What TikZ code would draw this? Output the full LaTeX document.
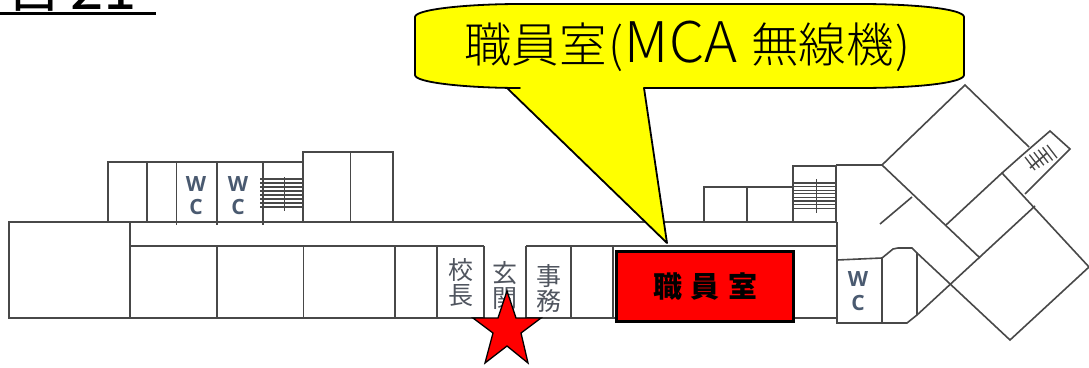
\documentclass[tikz,border=0pt]{standalone}
\usepackage{fontspec}
\setmainfont{Noto Sans CJK JP}
\newfontfamily\cjklight{Noto Sans CJK JP Light}
\newfontfamily\wcfont{Open Sans}
\definecolor{wall}{HTML}{484848}
\definecolor{lbl}{HTML}{50555F}
\definecolor{wclbl}{HTML}{4A5A70}
\definecolor{pureyellow}{RGB}{255,255,0}
\definecolor{purered}{RGB}{255,0,0}
\tikzset{
  wallline/.style={draw=wall,line width=1.6pt},
  thinwall/.style={draw=wall,line width=1.3pt},
  roomlbl/.style={text=lbl,font=\fontsize{25}{26}\selectfont,inner sep=0pt,align=center},
  wclabel/.style={text=wclbl,font=\wcfont\bfseries\fontsize{21}{23}\selectfont,inner sep=0pt},
  bubble/.style={draw=black,line width=1.8pt,fill=pureyellow,line join=round},
}
\begin{document}
\begin{tikzpicture}[x=1pt,y=-1pt]
\useasboundingbox (0,0) rectangle (1089,367);
\fill[white] (0,0) rectangle (1089,367);
% clipped heading
\begin{scope}
\clip (0,0) rectangle (160,11.5);
\node[anchor=base west,inner sep=0pt,font=\fontsize{60}{60}\selectfont] (headA) at (4,6) {合};
\node[anchor=base west,inner sep=0pt,font=\fontsize{60}{60}\selectfont] (headB) at (70,9.5) {21};
\end{scope}
\draw[line width=3.2pt] (0,13.5) -- (156,13.5);
% left wing
\draw[wallline] (9,222) rectangle (130,318);
\draw[wallline] (130,222) -- (837,222);
\draw[wallline] (130,246) -- (484,246) (526,246) -- (837,246);
\draw[wallline] (130,318) -- (484,318) (526,318) -- (837,318);
\foreach \x in {217,303.5,395,437,484,526,571,613}
  \draw[wallline] (\x,246) -- (\x,318);
\draw[wallline] (108,222) -- (108,162) -- (303,162);
\draw[wallline] (147,162) -- (147,222);
\foreach \x in {176.5,217,263}
  \draw[wallline] (\x,162) -- (\x,225);
\draw[wallline] (303,222) -- (303,152) -- (393,152) -- (393,222);
\draw[wallline] (350.5,152) -- (350.5,222);
\foreach \i in {0,...,7}
  \draw[thinwall] (260,179+4*\i) -- (303,179+4*\i);
\draw[wallline] (284.5,177) -- (284.5,211);
% right of corridor
\draw[wallline] (704,222) -- (704,187) -- (793,187);
\draw[wallline] (747,187) -- (747,222);
\draw[wallline] (793,222) -- (793,166) -- (836,166) -- (836,222);
\foreach \i in {0,...,7}
  \draw[thinwall] (793,183+3.6*\i) -- (836,183+3.6*\i);
\draw[wallline] (816.5,179) -- (816.5,213);
\draw[wallline] (837,222) -- (837,323) -- (907,323) -- (917,315) -- (1035,206);
\draw[wallline] (836,165) -- (882,165);
\draw[wallline] (837,260) -- (882,258) (882,323) -- (882,258) -- (893,249) -- (898,248) -- (912,248) -- (917,253) -- (917,315);
\draw[wallline] (917,253) -- (1010,340) -- (1089,267) -- (1002,173) -- (946,225);
\draw[wallline] (882,165) -- (965,85) -- (1029,147);
\draw[wallline] (882,165) -- (980,258);
\draw[wallline] (880,224) -- (912,197);
\draw[wallline] (1002,173) -- (1020,157) -- (1050,131) -- (1070,149) -- (1025,194);
\foreach \i in {0,...,5}
  \draw[thinwall] (1025+4.4*\i,157-2.4*\i) -- (1035+4.4*\i,170-2.4*\i);
\draw[wallline] (1030,168) -- (1047,153);
% labels on plan
\node[wclabel] (w1) at (196,184) {W};
\node[wclabel] (c1) at (196,207) {C};
\node[wclabel] (w2) at (238,184) {W};
\node[wclabel] (c2) at (238,207) {C};
\node[wclabel] (w3) at (858,279) {W};
\node[wclabel] (c3) at (858,303) {C};
\node[roomlbl] (kocho) at (461,283) {校\\[-1pt]長};
\node[roomlbl] (genkan) at (505,285) {玄\\[-1pt]関};
\node[roomlbl] (jimu) at (549,288) {事\\[-1pt]務};
% callout
\draw[bubble] (415,17)
  .. controls (415,9) and (470,4) .. (520,4)
  -- (860,4)
  .. controls (915,4) and (964,9) .. (964,17)
  -- (964,75)
  .. controls (964,83) and (915,88) .. (860,88)
  -- (644,88) -- (667,243) -- (507,88) -- (520,88)
  .. controls (470,88) and (415,83) .. (415,75) -- cycle;
\node[inner sep=0pt] (callout) at (687.5,46) {\cjklight\fontsize{47.5}{52}\selectfont 職員室\hspace{2pt}(\hspace{1pt}{\fontsize{56}{52}\selectfont MCA}\hspace{14pt}無線機\hspace{2pt})};
% staff room
\node[draw=black,line width=3pt,fill=purered,minimum width=177pt,minimum height=70pt,inner sep=0pt] (staff) at (705,286.5) {\bfseries\fontsize{29}{30}\selectfont 職\hspace{8.5pt}員\hspace{8.5pt}室\hspace{11pt}};
% star
\draw[draw=black,line width=1.3pt,fill=purered,line join=miter] (507,291) -- (516,318) -- (541,318) -- (521,333) -- (528,363) -- (507,346) -- (485,363) -- (493,333) -- (473,318) -- (498,318) -- cycle;
\end{tikzpicture}
\end{document}
